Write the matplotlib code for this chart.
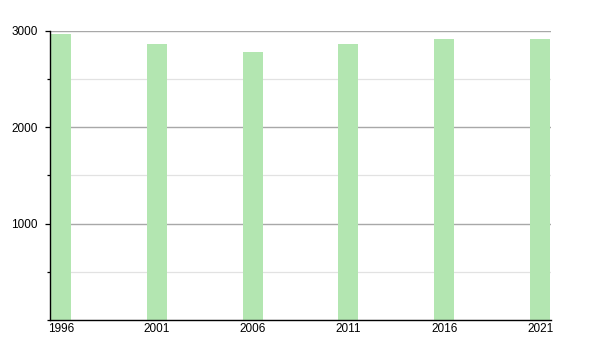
import matplotlib.pyplot as plt
from matplotlib.ticker import MultipleLocator

plt.rcParams["font.family"] = "Liberation Sans"

years = [1996, 2001, 2006, 2011, 2016, 2021]
population = [2960, 2855, 2780, 2865, 2917, 2907]
ytick_vals = [1000, 2000, 3000]

fig = plt.figure(figsize=(6, 3.5), dpi=100)
ax = fig.add_axes([50 / 600, 30 / 350, 501 / 600, 289.5 / 350])

ax.bar(years, population, width=1.04, color="#b3e6b1", zorder=2)

ax.set_xlim(years[0] - 0.57, years[-1] + 0.57)
ax.set_ylim(0, 3000)

ax.set_yticks(ytick_vals)
ax.yaxis.set_minor_locator(MultipleLocator(500))
ax.grid(axis="y", which="major", color="#a8a8a8", lw=1, zorder=0)
ax.grid(axis="y", which="minor", color="#e2e2e2", lw=0.9, zorder=0)

ax.set_xticks(years)
ax.set_xticklabels([str(y) for y in years])
ax.tick_params(axis="x", length=0, pad=2.5, labelsize=8.5)
ax.tick_params(axis="y", which="major", length=3.8, width=0.9, pad=5, labelsize=8.5)
ax.tick_params(axis="y", which="minor", length=2, width=0.9)

for side in ["top", "right"]:
    ax.spines[side].set_visible(False)
ax.spines["left"].set_linewidth(1)
ax.spines["bottom"].set_linewidth(1)

fig.savefig("out.png", dpi=100)
